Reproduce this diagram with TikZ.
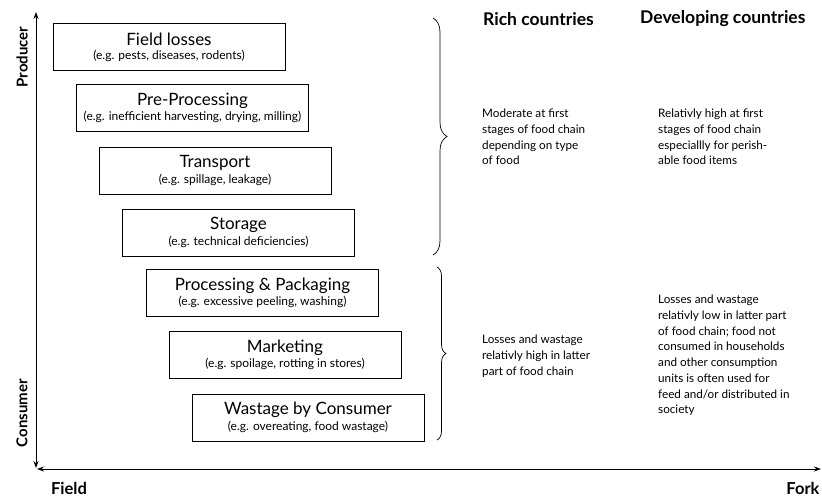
\documentclass[tikz,border=0pt]{standalone}
\usepackage{fontspec}
\setmainfont{Lato}
\usetikzlibrary{decorations.pathreplacing,arrows.meta}
\begin{document}
\begin{tikzpicture}[x=1pt,y=1pt,
  stagebox/.style={draw, line width=0.9pt, minimum width=232pt, minimum height=47pt, align=center, inner sep=0pt},
  bodytext/.style={anchor=north west, align=left, font=\fontsize{11.7}{15.7}\selectfont, inner sep=0pt},
  hdr/.style={font=\bfseries\fontsize{17.5}{20}\selectfont, inner sep=0pt},
  axlabel/.style={font=\bfseries\fontsize{15}{17}\selectfont, inner sep=0pt},
  axis/.style={line width=0.9pt, {Stealth[length=7pt,width=5pt]}-{Stealth[length=7pt,width=5pt]}},
  bracestyle/.style={line width=0.7pt, decorate}
]
\useasboundingbox (0,0) rectangle (822,-498);
\newcommand{\stg}[2]{{\fontsize{17}{17}\selectfont #1}\\[2pt]{\fontsize{12}{13}\selectfont #2}}
\node[stagebox] (b1) at (169,-47) {\stg{Field losses}{(e.g. pests, diseases, rodents)}};
\node[stagebox] (b2) at (192.5,-108) {\stg{Pre-Processing}{(e.g. inefficient harvesting, drying, milling)}};
\node[stagebox] (b3) at (215,-170.5) {\stg{Transport}{(e.g. spillage, leakage)}};
\node[stagebox] (b4) at (238.5,-232.5) {\stg{Storage}{(e.g. technical deficiencies)}};
\node[stagebox] (b5) at (262.5,-293) {\stg{Processing \& Packaging}{(e.g. excessive peeling, washing)}};
\node[stagebox] (b6) at (285,-355) {\stg{Marketing}{(e.g. spoilage, rotting in stores)}};
\node[stagebox] (b7) at (308,-417.5) {\stg{Wastage by Consumer}{(e.g. overeating, food wastage)}};

\coordinate (vtop) at (36,-12);
\coordinate (corner) at (36,-468);
\coordinate (hleft) at (37,-469);
\coordinate (hright) at (821,-469);
\draw[axis] (vtop) -- (corner);
\draw[axis] (hleft) -- (hright);

\node[axlabel, rotate=90] (prod) at (22,-57) {Producer};
\node[axlabel, rotate=90] (cons) at (22,-413) {Consumer};
\node[axlabel, font=\bfseries\fontsize{16.5}{18}\selectfont] (field) at (69,-488) {Field};
\node[axlabel, font=\bfseries\fontsize{16.5}{18}\selectfont] (fork) at (803,-488) {Fork};

\node[hdr, anchor=west] (rich) at (483,-19) {Rich countries};
\node[hdr, anchor=west] (dev) at (640,-19) {Developing countries};

\coordinate (br1a) at (433,-18);
\coordinate (br1b) at (433,-255);
\coordinate (br2a) at (437,-267);
\coordinate (br2b) at (437,-440);
\draw[bracestyle, decoration={brace, amplitude=14pt}] (br1a) -- (br1b);
\draw[bracestyle, decoration={brace, amplitude=9pt}] (br2a) -- (br2b);

\node[bodytext] (r1) at (482,-109) {Moderate at first\\stages of food chain\\depending on type\\of food};
\node[bodytext] (d1) at (658,-109) {Relativly high at first\\stages of food chain\\especiallly for perish-\\able food items};
\node[bodytext] (r2) at (482,-335) {Losses and wastage\\relativly high in latter\\part of food chain};
\node[bodytext] (d2) at (658,-295) {Losses and wastage\\relativly low in latter part\\of food chain; food not\\consumed in households\\and other consumption\\units is often used for\\feed and/or distributed in\\society};
\end{tikzpicture}
\end{document}
